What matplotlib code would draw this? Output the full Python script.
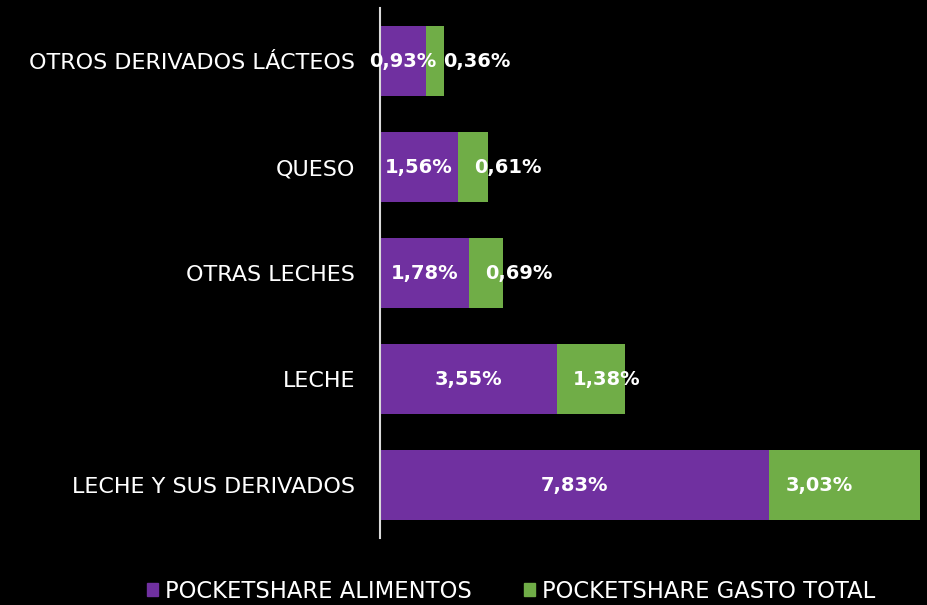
import matplotlib
matplotlib.use("Agg")
import matplotlib.pyplot as plt
from matplotlib.patches import Patch

# data, bottom to top as drawn
categories = ["LECHE Y SUS DERIVADOS", "LECHE", "OTRAS LECHES", "QUESO",
              "OTROS DERIVADOS LÁCTEOS"]
alimentos = [7.83, 3.55, 1.78, 1.56, 0.93]
gasto_total = [3.03, 1.38, 0.69, 0.61, 0.36]
series_names = ["POCKETSHARE ALIMENTOS", "POCKETSHARE GASTO TOTAL"]

purple = "#7030A0"
green = "#70AD47"

plt.rcParams['font.family'] = ['DejaVu Sans']

fig = plt.figure(figsize=(9.28, 6.05), dpi=100, facecolor="black")
ax = fig.add_axes([380 / 928, 1 - 538 / 605, 540 / 928, 530 / 605])
ax.set_facecolor("black")

y = range(len(categories))
ax.barh(y, alimentos, height=0.66, color=purple)
ax.barh(y, gasto_total, left=alimentos, height=0.66, color=green)

def fmt(v):
    return f"{v:.2f}%".replace(".", ",")

for i in y:
    ax.text(alimentos[i] / 2, i, fmt(alimentos[i]), color="white",
            fontsize=14, fontweight="bold", ha="center", va="center")
    ax.annotate(fmt(gasto_total[i]), (alimentos[i], i), xytext=(12, 0),
                textcoords="offset points", color="white", fontsize=14,
                fontweight="bold", ha="left", va="center")

ax.set_xlim(0, sum([alimentos[0], gasto_total[0]]))
ax.set_ylim(-0.5, len(categories) - 0.5)
ax.set_yticks(list(y))
ax.set_yticklabels(categories, color="white", fontsize=16)
ax.tick_params(axis="y", length=0, pad=18)
ax.set_xticks([])
for side in ["top", "right", "bottom"]:
    ax.spines[side].set_visible(False)
ax.spines["left"].set_color("#d9d9d9")
ax.spines["left"].set_linewidth(1.5)

handles = [Patch(color=purple), Patch(color=green)]
fig.legend(handles, series_names, loc="center", bbox_to_anchor=(511 / 928, 1 - 591 / 605),
           ncol=2, frameon=False, fontsize=16.3, labelcolor="white",
           handlelength=0.5, handleheight=0.5, handletextpad=0.3, columnspacing=2.3)

fig.savefig("out.png", dpi=100, facecolor="black")
